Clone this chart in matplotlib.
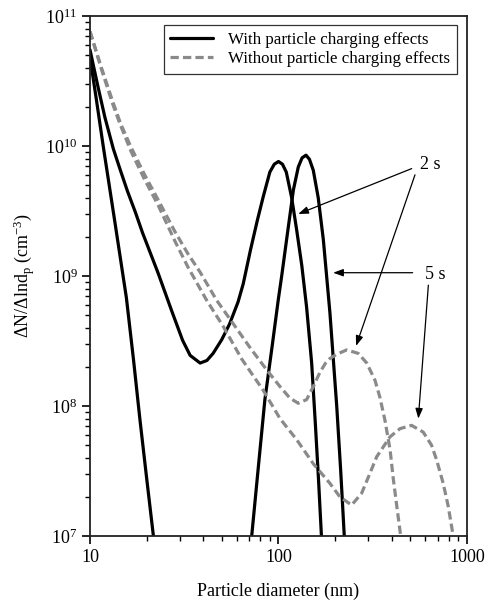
import matplotlib
matplotlib.use("Agg")
import matplotlib.pyplot as plt
from matplotlib.ticker import LogLocator, NullFormatter

plt.rcParams['font.family'] = 'serif'
plt.rcParams['font.serif'] = ['Liberation Serif', 'DejaVu Serif']
plt.rcParams['mathtext.fontset'] = 'custom'
plt.rcParams['mathtext.rm'] = 'Liberation Serif'
plt.rcParams['mathtext.it'] = 'Liberation Serif:italic'

# with charging, t = 2 s
d_chg_2s = [10, 11, 12, 13.3, 14.5, 15.8, 17.4, 19, 23, 27, 31, 34, 38.4, 41.7, 45, 50, 55,
            61, 65, 71, 77, 83, 90, 95, 100, 105, 110, 117.5, 125, 133, 141, 150, 157, 163,
            169, 174]
n_chg_2s = [5.5e10, 2.9e10, 1.66e10, 9.5e9, 6.5e9, 4.5e9, 3.1e9, 2.15e9, 1.05e9, 5.5e8,
            3.2e8, 2.45e8, 2.14e8, 2.24e8, 2.54e8, 3.24e8, 4.27e8, 6.3e8, 8.7e8, 1.58e9,
            2.63e9, 4.07e9, 6.3e9, 7.24e9, 7.6e9, 7.24e9, 6.3e9, 4.0e9, 2.24e9, 1.2e9,
            5.75e8, 2.14e8, 7.2e7, 2.75e7, 1.0e7, 4.5e6]

# with charging, t = 5 s (nucleation tail + accumulation peak)
d_chg_5s_a = [10, 10.8, 11.75, 13.5, 15.6, 17, 18.4, 20, 21.7, 22.1]
n_chg_5s_a = [4.8e10, 2.3e10, 1.0e10, 2.7e9, 6.8e8, 2.3e8, 7.9e7, 2.75e7, 1.0e7, 7.6e6]
d_chg_5s_b = [70.8, 72.1, 78.2, 84.7, 92.3, 99.8, 104, 110.4, 120, 127.4, 133.4, 140, 146,
              153, 162.5, 173, 187.5, 203.7, 213.8, 223.4, 226]
n_chg_5s_b = [7.6e6, 1.0e7, 3.4e7, 1.12e8, 2.8e8, 6.6e8, 1.0e9, 1.9e9, 4.6e9, 6.9e9, 8.1e9,
              8.5e9, 7.9e9, 6.5e9, 4.0e9, 1.9e9, 5.2e8, 1.0e8, 3.2e7, 1.0e7, 7.6e6]

# without charging, t = 2 s
d_nochg_2s = [10, 11.5, 13.2, 14.5, 16.5, 19.5, 23, 28.2, 33.1, 38.4, 47, 57.5, 70.8, 86.5,
              101.9, 115, 127.4, 141, 153, 166, 177.8, 187.5, 203.7, 230, 265, 294, 325,
              345, 367, 391, 406, 427, 445, 453]
n_nochg_2s = [7.6e10, 4.0e10, 2.2e10, 1.5e10, 9.8e9, 6.0e9, 3.85e9, 2.2e9, 1.48e9, 1.07e9,
              6.5e8, 4.3e8, 2.8e8, 1.9e8, 1.41e8, 1.15e8, 1.05e8, 1.12e8, 1.41e8, 1.82e8,
              2.14e8, 2.32e8, 2.5e8, 2.7e8, 2.54e8, 2.14e8, 1.58e8, 1.17e8, 7.8e7, 4.6e7,
              2.8e7, 1.58e7, 1.0e7, 7.6e6]

# without charging, t = 5 s
d_nochg_5s = [10, 11.5, 13.2, 14.5, 16.5, 19.5, 23, 28.2, 33.1, 41.6, 50.9, 63.8, 83, 101.9,
              125, 153, 187.5, 211.8, 244.3, 276, 305.5, 331.9, 390.8, 441.6, 508.2, 586,
              648.6, 690.2, 748.2, 796.2, 845.3, 861]
n_nochg_5s = [7.6e10, 3.9e10, 2.1e10, 1.45e10, 9.1e9, 5.5e9, 3.5e9, 1.86e9, 1.17e9, 6.5e8,
              4.1e8, 2.3e8, 1.32e8, 8.0e7, 5.5e7, 3.6e7, 2.54e7, 2.0e7, 1.73e7, 2.13e7,
              3.03e7, 4.07e7, 5.8e7, 6.7e7, 7.1e7, 6.3e7, 5.0e7, 3.85e7, 2.54e7, 1.68e7,
              1.0e7, 7.6e6]

legend_labels = ['With particle charging effects', 'Without particle charging effects']

fig = plt.figure(figsize=(4.88, 6.05), dpi=100)
ax = fig.add_axes([0.1844, 0.114, 0.7725, 0.8596])

solid = dict(color='black', lw=2.3, solid_capstyle='round', solid_joinstyle='round')
dashed = dict(color='#8a8a8a', lw=2.3, ls=(0, (2.6, 1.3)))

ax.plot(d_chg_2s, n_chg_2s, label=legend_labels[0], **solid)
ax.plot(d_chg_5s_a, n_chg_5s_a, **solid)
ax.plot(d_chg_5s_b, n_chg_5s_b, **solid)
ax.plot(d_nochg_2s, n_nochg_2s, label=legend_labels[1], **dashed)
ax.plot(d_nochg_5s, n_nochg_5s, **dashed)

ax.set_xscale('log')
ax.set_yscale('log')
ax.set_xlim(10, 1000)
ax.set_ylim(1e7, 1e11)

ax.set_xticks([10, 100, 1000])
ax.set_xticklabels(['10', '100', '1000'])
ax.xaxis.set_minor_locator(LogLocator(base=10, subs=range(2, 10)))
ax.xaxis.set_minor_formatter(NullFormatter())
ax.yaxis.set_major_locator(LogLocator(base=10, numticks=10))
ax.yaxis.set_minor_locator(LogLocator(base=10, subs=range(2, 10), numticks=10))
ax.yaxis.set_minor_formatter(NullFormatter())

ax.tick_params(which='major', direction='out', length=6, width=1.2, labelsize=13, pad=3)
ax.tick_params(which='minor', direction='out', length=3.5, width=1.0)
for s in ax.spines.values():
    s.set_linewidth(1.3)
    s.set_color('#222222')

ax.set_xlabel('Particle diameter (nm)', fontsize=13, labelpad=12)
ax.set_ylabel('ΔN/Δlnd$_{\\rm p}$ (cm$^{-3}$)', fontsize=13, labelpad=6)

leg = ax.legend(loc='upper right', bbox_to_anchor=(0.973, 0.983), borderaxespad=0,
                fontsize=12.2, frameon=True, fancybox=False, handlelength=2.5,
                borderpad=0.4, labelspacing=0.2, handletextpad=0.9)
leg.get_frame().set_edgecolor('black')
leg.get_frame().set_linewidth(0.9)

arrow = dict(arrowstyle='-|>,head_length=0.6,head_width=0.22', lw=0.9, color='black',
             shrinkA=0, shrinkB=0)
ax.annotate('', xy=(127.3, 3.0e9), xytext=(509, 6.7e9), arrowprops=arrow)
ax.annotate('', xy=(258, 2.9e8), xytext=(530, 6.0e9), arrowprops=arrow)
ax.annotate('', xy=(195, 1.06e9), xytext=(515, 1.06e9), arrowprops=arrow)
ax.annotate('', xy=(552, 8.0e7), xytext=(624, 8.5e8), arrowprops=arrow)
ax.text(637, 7.15e9, '2 s', fontsize=13, ha='center', va='center')
ax.text(676, 1.02e9, '5 s', fontsize=13, ha='center', va='center')

fig.savefig('out.png', dpi=100)
